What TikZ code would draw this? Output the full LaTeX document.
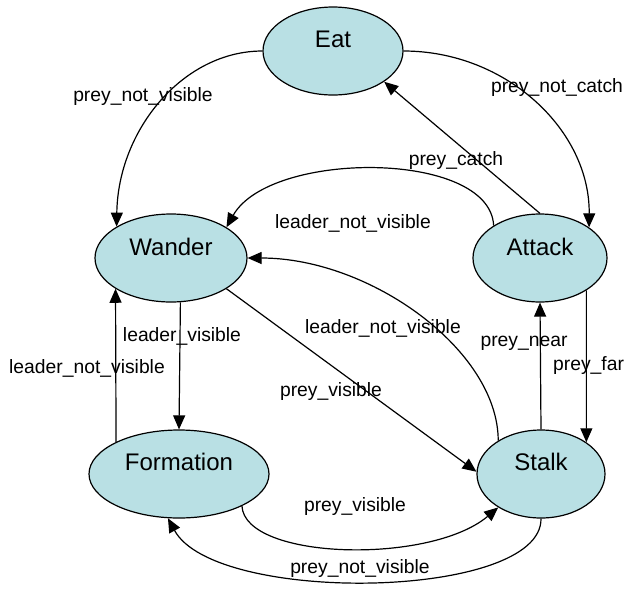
\documentclass[tikz,border=0pt]{standalone}
\usepackage{fontspec}
\setmainfont{Liberation Sans}
\usetikzlibrary{shapes.geometric,arrows.meta}
\definecolor{statefill}{RGB}{185,224,228}
\begin{document}
\begin{tikzpicture}[x=1pt,y=-1pt,
  state/.style={ellipse,draw=black,line width=1.2pt,fill=statefill,inner sep=0pt},
  statetext/.style={font=\fontsize{24}{28}\selectfont,inner sep=0pt},
  lbl/.style={font=\fontsize{19.3}{23}\selectfont,inner sep=0pt},
  conn/.style={line width=1.2pt,-{Triangle[length=14pt,width=12pt]}}]
\useasboundingbox (0,0) rectangle (624,590);
% states
\node[state,minimum width=140pt,minimum height=88pt] (eat) at (333,51) {};
\node[state,minimum width=152pt,minimum height=88pt] (wander) at (171,258) {};
\node[state,minimum width=134pt,minimum height=88pt] (attack) at (540,258) {};
\node[state,minimum width=180pt,minimum height=88pt] (formation) at (179,474) {};
\node[state,minimum width=128pt,minimum height=88pt] (stalk) at (541,474) {};
\node[statetext] (teat) at (333,39) {Eat};
\node[statetext] (twander) at (171,247) {Wander};
\node[statetext] (tattack) at (540,247) {Attack};
\node[statetext] (tformation) at (179,462) {Formation};
\node[statetext] (tstalk) at (541,462) {Stalk};
% connectors
\draw[conn] (eat.west) .. controls (183,51) and (118,130) .. (wander.150);
\draw[conn] (eat.east) .. controls (506,51) and (590,130) .. (attack.32);
\draw[conn] (attack.north) -- (eat.-31);
\draw[conn] (attack.145) .. controls (490,150) and (270,150) .. (wander.29);
\draw[conn] (stalk.142) .. controls (498,350) and (370,258) .. (wander.east);
\draw[conn] (wander.-29) -- (stalk.178);
\draw[conn] (wander.-78) -- (formation.north);
\draw[conn] (formation.153) -- (wander.-151);
\draw[conn] (attack.-35) -- (stalk.35);
\draw[conn] (stalk.north) -- (attack.south);
\draw[conn] (formation.-27) .. controls (245,560) and (430,565) .. (stalk.-142);
\draw[conn] (stalk.south) .. controls (542,600) and (215,605) .. (formation.-104);
% labels
\node[lbl] (l1) at (143,97) {prey\_not\_visible};
\node[lbl] (l2) at (557,88) {prey\_not\_catch};
\node[lbl] (l3) at (456,161) {prey\_catch};
\node[lbl] (l4) at (353,223) {leader\_not\_visible};
\node[lbl] (l5) at (383,328) {leader\_not\_visible};
\node[lbl] (l6) at (331,392) {prey\_visible};
\node[lbl] (l7) at (182,336) {leader\_visible};
\node[lbl] (l8) at (87,368) {leader\_not\_visible};
\node[lbl] (l9) at (524,343) {prey\_near};
\node[lbl,anchor=west] (l10) at (553,366) {prey\_far};
\node[lbl] (l11) at (355,507) {prey\_visible};
\node[lbl] (l12) at (360,568) {prey\_not\_visible};
\end{tikzpicture}
\end{document}
